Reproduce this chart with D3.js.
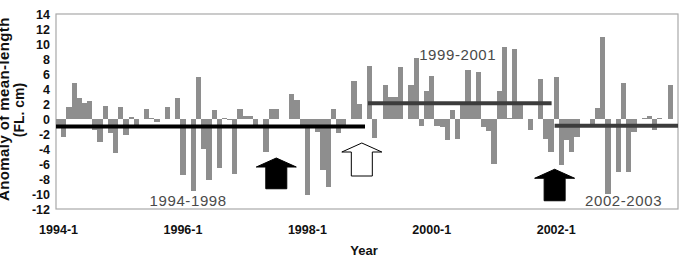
<!DOCTYPE html>
<html>
<head>
<meta charset="utf-8">
<script src="https://cdn.jsdelivr.net/npm/d3@7"></script>
<style>
  body { margin: 0; background: #fff; }
  svg { display: block; }
  text { font-family: "Liberation Sans", Arial, sans-serif; }
</style>
</head>
<body>
<svg id="chart" width="682" height="263"></svg>
<script>
// monthly categories 1994-1 .. 2003-12
var years  = [1994, 1995, 1996, 1997, 1998, 1999, 2000, 2001, 2002, 2003];
var months = [1, 2, 3, 4, 5, 6, 7, 8, 9, 10, 11, 12];
var tickLabels = ["1994-1", "1996-1", "1998-1", "2000-1", "2002-1"];
var yTicks = [14, 12, 10, 8, 6, 4, 2, 0, -2, -4, -6, -8, -10, -12];

// anomaly of mean length (FL, cm), one value per month
var anomaly = [
	-1.0, -2.4,  1.6,  4.8,  2.8,  2.2,  2.4, -1.5, -3.0,  1.8, -1.9, -4.5,
	 1.6, -2.1,  0.3, -0.9,  0.0,  1.3,  0.2, -0.4,  0.0,  1.6,  0.0,  2.8,
	-7.5,  0.0, -9.6,  5.6, -4.0, -8.1,  1.2, -6.5,  0.1, -0.1, -7.3,  1.4,
	 0.4,  0.4, -0.8,  0.0, -4.4,  1.3,  1.3,  0.0,  0.0,  3.3,  2.5, -1.0,
	-10.1, -1.0, -1.7, -6.8, -9.0,  1.3, -1.8, -0.9,  0.0,  5.1,  2.0,  0.0,
	 7.1, -2.5,  0.0,  4.5,  2.9,  3.0,  6.9,  0.0,  4.5,  8.1, -0.9,  3.7,
	 5.7, -0.9, -1.1, -2.8,  1.2, -2.6,  2.1,  6.6,  2.1,  6.3, -1.0, -1.6,
	-6.0,  3.7,  9.6,  0.2,  9.3,  2.0,  0.0, -1.5,  0.0,  5.4, -2.6, -4.4,
	 5.6, -6.1, -2.8, -4.4, -2.4,  0.0,  0.0, -0.6,  1.5, 11.0, -10.0, 0.0,
	-7.0,  4.8, -7.0, -1.7,  0.0,  0.2,  0.4, -1.5,  0.2,  0.0,  4.6,  0.0
];

// period means
var periodLabels = ["1994-1998", "1999-2001", "2002-2003"];
var periodStart  = ["1994-1", "1999-1", "2002-1"];
var periodEnd    = ["1998-12", "2001-12", "2003-12"];
var periodMean   = [-1.0, 2.1, -0.9];
var periodLabelAt  = ["1996-2", "2000-6", "2003-2"];
var periodLabelVal = [-11.6, 7.9, -11.6];

// arrows: category, where in the band, tip value, base value, filled
var arrowCat  = ["1997-7", "1998-12", "2002-1"];
var arrowFrac = [0.5, 0.0, 0.2];
var arrowTip  = [-5.2, -3.2, -6.7];
var arrowBase = [-9.3, -7.6, -10.9];
var arrowFill = ["#000", "#fff", "#000"];

var categories = [];
years.forEach(function(yr){
	months.forEach(function(m){ categories.push(yr + "-" + m); });
});

var svg = d3.select("#chart");
var plotLeft = 56, plotRight = 678, plotTop = 14, plotBottom = 209;

var x = d3.scaleBand().domain(categories).range([plotLeft, plotRight]).padding(0);
var y = d3.scaleLinear().domain([-12, 14]).range([plotBottom, plotTop]);

// frame
svg.append("rect")
	.attr("x", plotLeft).attr("y", plotTop)
	.attr("width", plotRight - plotLeft).attr("height", plotBottom - plotTop)
	.attr("fill", "none").attr("stroke", "#a8a8a8").attr("stroke-width", 1.2);

// bars
svg.append("g")
	.selectAll("rect")
	.data(anomaly)
	.enter()
		.append("rect")
		.attr("x", function(v, i){ return x(categories[i]); })
		.attr("width", x.bandwidth())
		.attr("y", function(v){ return Math.min(y(v), y(0)); })
		.attr("height", function(v){ return Math.abs(y(v) - y(0)); })
		.attr("fill", "#8e8e8e")
		.attr("shape-rendering", "crispEdges");

// period mean lines
svg.append("g")
	.selectAll("line")
	.data(periodMean)
	.enter()
		.append("line")
		.attr("x1", function(v, i){ return x(periodStart[i]) + (i == 0 ? 0 : 1); })
		.attr("x2", function(v, i){ return x(periodEnd[i]) + x.bandwidth() - (i == 2 ? 0 : 2); })
		.attr("y1", function(v){ return y(v); })
		.attr("y2", function(v){ return y(v); })
		.attr("stroke", function(v, i){ return i == 0 ? "#000" : "#3c3c3c"; })
		.attr("stroke-width", 4);

// period labels
svg.append("g")
	.selectAll("text")
	.data(periodLabels)
	.enter()
		.append("text")
		.attr("x", function(t, i){ return x(periodLabelAt[i]) + x.bandwidth() / 2; })
		.attr("y", function(t, i){ return y(periodLabelVal[i]); })
		.attr("text-anchor", "middle")
		.attr("font-size", 15)
		.attr("letter-spacing", 0.6)
		.attr("fill", "#4a4a4a")
		.text(function(t){ return t; });

// arrows
svg.append("g")
	.selectAll("path")
	.data(arrowCat)
	.enter()
		.append("path")
		.attr("d", function(c, i){
			var cx = x(c) + arrowFrac[i] * x.bandwidth();
			var ty = y(arrowTip[i]), by = y(arrowBase[i]);
			var hw = 20, hh = 9, sw = 10.5;
			return "M" + cx + "," + ty +
				" L" + (cx + hw) + "," + (ty + hh) +
				" L" + (cx + sw) + "," + (ty + hh) +
				" L" + (cx + sw) + "," + by +
				" L" + (cx - sw) + "," + by +
				" L" + (cx - sw) + "," + (ty + hh) +
				" L" + (cx - hw) + "," + (ty + hh) + " Z";
		})
		.attr("fill", function(c, i){ return arrowFill[i]; })
		.attr("stroke", "#000")
		.attr("stroke-width", 1);

// y tick labels
svg.append("g")
	.selectAll("text")
	.data(yTicks)
	.enter()
		.append("text")
		.attr("x", plotLeft - 6)
		.attr("y", function(v){ return y(v) + 4.5; })
		.attr("text-anchor", "end")
		.attr("font-size", 12.5)
		.attr("font-weight", "bold")
		.attr("fill", "#111")
		.text(function(v){ return v; });

// x tick labels
svg.append("g")
	.selectAll("text")
	.data(tickLabels)
	.enter()
		.append("text")
		.attr("x", function(c){ return x(c) + x.bandwidth() / 2; })
		.attr("y", 234)
		.attr("text-anchor", "middle")
		.attr("font-size", 12.5)
		.attr("font-weight", "bold")
		.attr("fill", "#111")
		.text(function(c){ return c; });

// axis titles
svg.append("text")
	.attr("x", (plotLeft + plotRight) / 2 - 3)
	.attr("y", 255)
	.attr("text-anchor", "middle")
	.attr("font-size", 13)
	.attr("font-weight", "bold")
	.attr("fill", "#111")
	.text("Year");

svg.append("text")
	.attr("transform", "translate(9,201) rotate(-90)")
	.attr("text-anchor", "start")
	.attr("font-size", 15)
	.attr("letter-spacing", 0.4)
	.attr("font-weight", "bold")
	.attr("fill", "#111")
	.text("Anomaly of mean-length");

svg.append("text")
	.attr("transform", "translate(24,110) rotate(-90)")
	.attr("text-anchor", "middle")
	.attr("font-size", 14)
	.attr("font-weight", "bold")
	.attr("fill", "#111")
	.text("(FL. cm)");
</script>
</body>
</html>
